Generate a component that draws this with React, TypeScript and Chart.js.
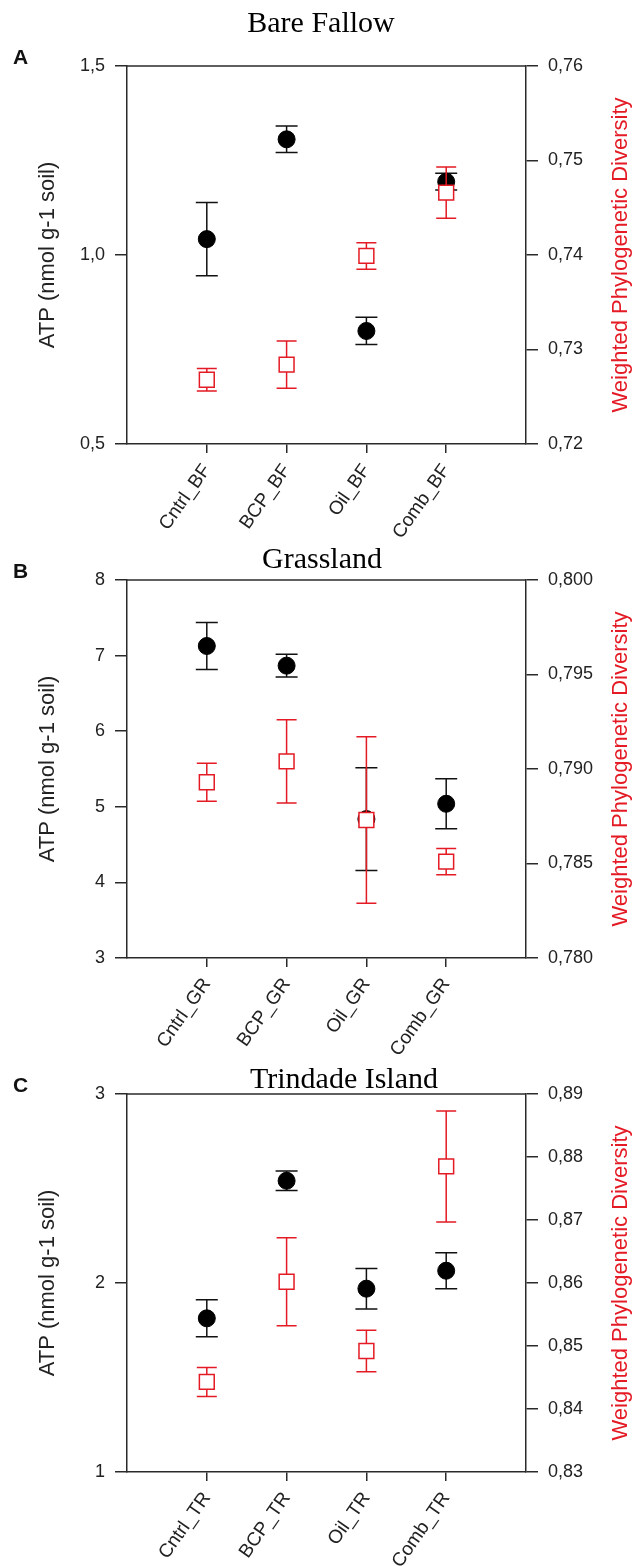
import React, { useEffect, useRef } from 'react';
import { Chart, registerables } from 'chart.js';

Chart.register(...registerables);

const RED = 'rgb(228,26,36)';
const DARK = '#2a2a2a';
const SANS = "'Liberation Sans', Arial, sans-serif";
const SERIF = "'Liberation Serif', 'Times New Roman', serif";

// ---- Panel A: Bare Fallow ----
const catsA = ['Cntrl_BF', 'BCP_BF', 'Oil_BF', 'Comb_BF'];
const atpA = [1.042, 1.306, 0.799, 1.194];
const atpErrA = [0.097, 0.035, 0.036, 0.022];
const wpdA = [0.7268, 0.7284, 0.7399, 0.7466];
const wpdErrA = [0.0012, 0.0025, 0.0014, 0.0027];
const leftTicksA = [0.5, 1.0, 1.5];
const rightTicksA = [0.72, 0.73, 0.74, 0.75, 0.76];

// ---- Panel B: Grassland ----
const catsB = ['Cntrl_GR', 'BCP_GR', 'Oil_GR', 'Comb_GR'];
const atpB = [7.127, 6.867, 4.837, 5.04];
const atpErrB = [0.31, 0.15, 0.68, 0.33];
const wpdB = [0.7893, 0.7904, 0.7873, 0.7851];
const wpdErrB = [0.001, 0.0022, 0.0044, 0.0007];
const leftTicksB = [3, 4, 5, 6, 7, 8];
const rightTicksB = [0.78, 0.785, 0.79, 0.795, 0.8];

// ---- Panel C: Trindade Island ----
const catsC = ['Cntrl_TR', 'BCP_TR', 'Oil_TR', 'Comb_TR'];
const atpC = [1.813, 2.541, 1.97, 2.065];
const atpErrC = [0.098, 0.052, 0.107, 0.095];
const wpdC = [0.8443, 0.8602, 0.8492, 0.8785];
const wpdErrC = [0.0023, 0.007, 0.0033, 0.0088];
const leftTicksC = [1, 2, 3];
const rightTicksC = [0.83, 0.84, 0.85, 0.86, 0.87, 0.88, 0.89];

const leftTitle = 'ATP (nmol g-1 soil)';
const rightTitle = 'Weighted Phylogenetic Diversity';

type PanelProps = {
  letter: string;
  title: string;
  titleX: number;
  titleBaseline: number;
  cats: string[];
  atp: number[];
  atpErr: number[];
  wpd: number[];
  wpdErr: number[];
  leftTicks: number[];
  rightTicks: number[];
  leftDec: number;
  rightDec: number;
  top: number;
  height: number;
};

const W = 641;
const AREA_LEFT = 127;
const AREA_RIGHT = 526;
const AREA_TOP = 66;
const AREA_BOTTOM = 444;

const fmt = (v: number, d: number) => v.toFixed(d).replace('.', ',');

function Panel(p: PanelProps) {
  const ref = useRef<HTMLCanvasElement | null>(null);

  useEffect(() => {
    if (!ref.current) return;
    const errs = [p.wpdErr, p.atpErr];
    const caps = [20, 22];
    const colors = [RED, '#111'];

    const decor = {
      id: 'decor',
      beforeDatasetsDraw(chart: any) {
        const { ctx, chartArea } = chart;
        ctx.save();
        ctx.strokeStyle = DARK;
        ctx.lineWidth = 1.5;
        ctx.beginPath();
        ctx.moveTo(chartArea.left, chartArea.top);
        ctx.lineTo(chartArea.right, chartArea.top);
        ctx.stroke();
        ctx.restore();
      },
      beforeDatasetDraw(chart: any, args: any) {
        const i = args.index;
        const ds = chart.data.datasets[i];
        const ys = chart.scales[ds.yAxisID];
        const xs = chart.scales.x;
        const { ctx } = chart;
        ctx.save();
        ctx.strokeStyle = colors[i];
        ctx.lineWidth = 1.5;
        ds.data.forEach((pt: any, j: number) => {
          const e = errs[i][j];
          const x = xs.getPixelForValue(pt.x);
          const y1 = ys.getPixelForValue(pt.y + e);
          const y2 = ys.getPixelForValue(pt.y - e);
          const h = caps[i] / 2;
          ctx.beginPath();
          ctx.moveTo(x, y1);
          ctx.lineTo(x, y2);
          ctx.moveTo(x - h, y1);
          ctx.lineTo(x + h, y1);
          ctx.moveTo(x - h, y2);
          ctx.lineTo(x + h, y2);
          ctx.stroke();
        });
        ctx.restore();
      },
      afterDraw(chart: any) {
        const { ctx, chartArea } = chart;
        ctx.save();
        ctx.fillStyle = '#000';
        ctx.font = `30px ${SERIF}`;
        ctx.textAlign = 'center';
        ctx.textBaseline = 'alphabetic';
        ctx.fillText(p.title, p.titleX, p.titleBaseline);
        ctx.font = `bold 21px ${SANS}`;
        ctx.textAlign = 'left';
        ctx.fillStyle = '#111';
        ctx.fillText(p.letter, 13, 64);
        ctx.translate(621, (chartArea.top + chartArea.bottom) / 2);
        ctx.rotate(-Math.PI / 2);
        ctx.textAlign = 'center';
        ctx.textBaseline = 'middle';
        ctx.font = `22px ${SANS}`;
        ctx.fillStyle = RED;
        ctx.fillText(rightTitle, 0, 0);
        ctx.restore();
      },
    };

    const gridOpts = (len: number) => ({
      display: true,
      drawOnChartArea: false,
      drawTicks: true,
      tickLength: len,
      color: DARK,
      lineWidth: 1.5,
    });
    const border = { display: true, color: DARK, width: 1.5 };

    const chart = new Chart(ref.current, {
      type: 'scatter',
      data: {
        datasets: [
          {
            label: rightTitle,
            yAxisID: 'y2',
            data: p.wpd.map((v, i) => ({ x: i + 1, y: v })),
            pointStyle: 'rect',
            pointRadius: 10.5,
            pointBackgroundColor: '#fff',
            pointBorderColor: RED,
            pointBorderWidth: 1.5,
            order: 1,
          },
          {
            label: leftTitle,
            yAxisID: 'y',
            data: p.atp.map((v, i) => ({ x: i + 1, y: v })),
            pointStyle: 'circle',
            pointRadius: 8.5,
            pointBackgroundColor: '#000',
            pointBorderColor: '#000',
            pointBorderWidth: 1,
            order: 2,
          },
        ],
      },
      options: {
        responsive: false,
        maintainAspectRatio: false,
        animation: false,
        layout: {
          padding: { top: AREA_TOP, left: 0, right: 0, bottom: 0 },
        },
        plugins: { legend: { display: false }, tooltip: { enabled: false } },
        scales: {
          x: {
            type: 'linear',
            position: 'bottom',
            min: 0,
            max: p.cats.length + 1,
            afterBuildTicks: (axis: any) => {
              axis.ticks = p.cats.map((_, i) => ({ value: i + 1 }));
            },
            afterFit: (s: any) => {
              s.height = p.height - AREA_BOTTOM;
            },
            ticks: {
              autoSkip: false,
              minRotation: 55,
              maxRotation: 55,
              padding: 7,
              color: '#222',
              font: { family: SANS, size: 19 },
              callback: (v: any) => p.cats[Number(v) - 1] ?? '',
            },
            grid: gridOpts(9),
            border,
          },
          y: {
            type: 'linear',
            position: 'left',
            min: p.leftTicks[0],
            max: p.leftTicks[p.leftTicks.length - 1],
            afterBuildTicks: (axis: any) => {
              axis.ticks = p.leftTicks.map((v) => ({ value: v }));
            },
            afterFit: (s: any) => {
              s.width = AREA_LEFT;
            },
            ticks: {
              padding: 10,
              color: '#222',
              font: { family: SANS, size: 18 },
              callback: (v: any) => fmt(Number(v), p.leftDec),
            },
            title: {
              display: true,
              text: leftTitle,
              color: '#222',
              font: { family: SANS, size: 22 },
              padding: { top: 35, bottom: 0 },
            },
            grid: gridOpts(12),
            border,
          },
          y2: {
            type: 'linear',
            position: 'right',
            min: p.rightTicks[0],
            max: p.rightTicks[p.rightTicks.length - 1],
            afterBuildTicks: (axis: any) => {
              axis.ticks = p.rightTicks.map((v) => ({ value: v }));
            },
            afterFit: (s: any) => {
              s.width = W - AREA_RIGHT;
            },
            ticks: {
              padding: 10,
              color: '#222',
              font: { family: SANS, size: 18 },
              callback: (v: any) => fmt(Number(v), p.rightDec),
            },
            grid: gridOpts(12),
            border,
          },
        },
      },
      plugins: [decor],
    } as any);
    return () => chart.destroy();
  }, []);

  return (
    <canvas
      ref={ref}
      width={W}
      height={p.height}
      style={{ position: 'absolute', left: 0, top: p.top, width: W, height: p.height, display: 'block' }}
    />
  );
}

export default function App() {
  return (
    <div style={{ position: 'absolute', left: 0, top: 0, width: W, height: 1566, background: '#fff' }}>
      <Panel
        letter="A" title="Bare Fallow" titleX={321} titleBaseline={32}
        cats={catsA} atp={atpA} atpErr={atpErrA} wpd={wpdA} wpdErr={wpdErrA}
        leftTicks={leftTicksA} rightTicks={rightTicksA} leftDec={1} rightDec={2}
        top={0} height={590}
      />
      <Panel
        letter="B" title="Grassland" titleX={322} titleBaseline={54}
        cats={catsB} atp={atpB} atpErr={atpErrB} wpd={wpdB} wpdErr={wpdErrB}
        leftTicks={leftTicksB} rightTicks={rightTicksB} leftDec={0} rightDec={3}
        top={514} height={590}
      />
      <Panel
        letter="C" title="Trindade Island" titleX={344} titleBaseline={60}
        cats={catsC} atp={atpC} atpErr={atpErrC} wpd={wpdC} wpdErr={wpdErrC}
        leftTicks={leftTicksC} rightTicks={rightTicksC} leftDec={0} rightDec={2}
        top={1028} height={538}
      />
    </div>
  );
}
